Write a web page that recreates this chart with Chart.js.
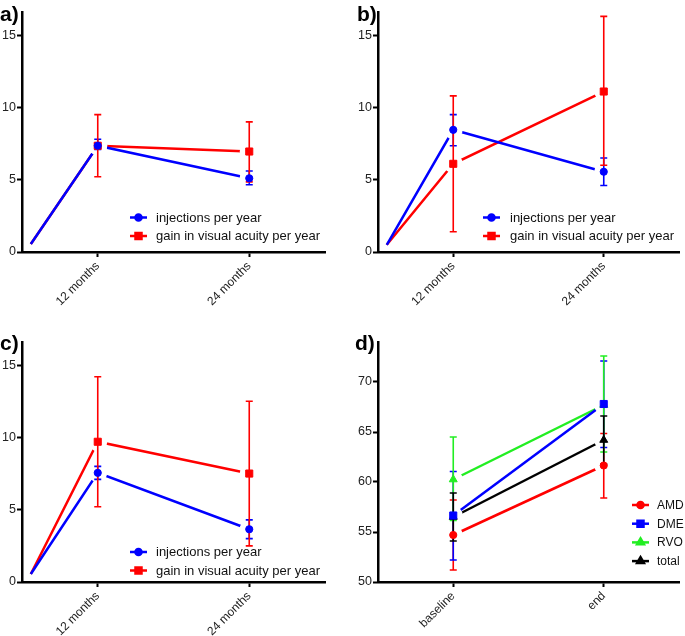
<!DOCTYPE html>
<html>
<head>
<meta charset="utf-8">
<script src="https://cdn.jsdelivr.net/npm/chart.js@4.4.0/dist/chart.umd.min.js"></script>
<style>
  body { margin: 0; background: #fff; }
  #wrap { position: relative; width: 685px; height: 636px; }
  canvas { position: absolute; }
</style>
</head>
<body>
<div id="wrap">
  <canvas id="chartA" width="340" height="318" style="left:0;top:0"></canvas>
  <canvas id="chartB" width="345" height="318" style="left:340px;top:0"></canvas>
  <canvas id="chartC" width="340" height="318" style="left:0;top:318px"></canvas>
  <canvas id="chartD" width="345" height="318" style="left:340px;top:318px"></canvas>
</div>
<script>
// ---- data ----
const startX = 6.7;               // lines in a-c start here (no marker)
const monthValues = [startX, 12, 24];
const monthTicks = [12, 24];
const monthLabels = ['12 months', '24 months'];
const seriesNames = ['injections per year', 'gain in visual acuity per year'];
const yTicksAC = [0, 5, 10, 15];

// a)
const injA = [0.55, 7.35, 5.1];
const injALow = [null, 7.1, 4.65];
const injAHigh = [null, 7.8, 5.6];
const gainA = [0.55, 7.35, 6.95];
const gainALow = [null, 5.2, 4.85];
const gainAHigh = [null, 9.5, 9.0];

// b)
const injB = [0.5, 8.45, 5.55];
const injBLow = [null, 7.35, 4.6];
const injBHigh = [null, 9.5, 6.5];
const gainB = [0.5, 6.1, 11.1];
const gainBLow = [null, 1.4, 6.0];
const gainBHigh = [null, 10.8, 16.3];

// c)
const injC = [0.55, 7.55, 3.65];
const injCLow = [null, 7.1, 3.0];
const injCHigh = [null, 8.0, 4.3];
const gainC = [0.55, 9.7, 7.5];
const gainCLow = [null, 5.2, 2.5];
const gainCHigh = [null, 14.2, 12.5];

// d)
const timeLabels = ['baseline', 'end'];
const groupNames = ['AMD', 'DME', 'RVO', 'total'];
const yTicksD = [50, 55, 60, 65, 70];
const amd = [54.7, 61.65];
const amdLow = [51.2, 58.4];
const amdHigh = [58.2, 64.85];
const dme = [56.65, 67.8];
const dmeLow = [52.2, 63.45];
const dmeHigh = [61.05, 72.1];
const rvo = [60.25, 67.7];
const rvoLow = [56.15, 63.0];
const rvoHigh = [64.5, 72.6];
const total = [56.5, 64.2];
const totalLow = [54.1, 61.8];
const totalHigh = [58.9, 66.6];

// ---- style ----
const BLUE = '#0000ff', RED = '#ff0000', GREEN = '#22ee22', BLACK = '#000000';
const FONT = 'Arial, "Liberation Sans", sans-serif';
Chart.defaults.font.family = FONT;
Chart.defaults.color = '#222';
Chart.defaults.animation = false;

const markerSize = { circle: 3.6, rect: 5, triangle: 4.6 };

// line datasets are drawn first (higher order), markers on top
function lineSet(xs, ys, color) {
  return {
    data: ys.map((y, i) => ({ x: xs[i], y: y })),
    borderColor: color, borderWidth: 2.5, pointRadius: 0,
    order: 2, kind: 'line'
  };
}
function markerSet(xs, ys, low, high, color, style, skipFirst) {
  return {
    data: ys.map((y, i) => ({ x: xs[i], y: y })),
    showLine: false, order: 1, kind: 'marker',
    pointStyle: style,
    pointRadius: ctx => (skipFirst && ctx.dataIndex === 0) ? 0 : markerSize[style],
    backgroundColor: color, borderColor: color, borderWidth: 1,
    errLow: low, errHigh: high, errColor: color, skipFirst: skipFirst
  };
}

// halo (Prism-style gap round markers) + error bars, drawn after lines and before markers
const errorBarPlugin = {
  id: 'errorBars',
  beforeDraw(chart) { chart.$errDone = false; },
  beforeDatasetDraw(chart, args) {
    const ds = chart.data.datasets[args.index];
    if (ds.kind !== 'marker' || chart.$errDone) return;
    chart.$errDone = true;
    const ctx = chart.ctx;
    const yScale = chart.scales.y;
    const markers = chart.data.datasets
      .map((d, i) => ({ d, meta: chart.getDatasetMeta(i) }))
      .filter(m => m.d.kind === 'marker');
    ctx.save();
    ctx.fillStyle = '#ffffff';
    markers.forEach(({ d, meta }) => {
      meta.data.forEach((pt, i) => {
        if (d.skipFirst && i === 0) return;
        ctx.beginPath();
        ctx.arc(pt.x, pt.y, 9.5, 0, Math.PI * 2);
        ctx.fill();
      });
    });
    ctx.lineWidth = 1.6;
    markers.forEach(({ d, meta }) => {
      ctx.strokeStyle = d.errColor;
      meta.data.forEach((pt, i) => {
        if (d.errLow[i] == null) return;
        const yl = yScale.getPixelForValue(d.errLow[i]);
        const yh = yScale.getPixelForValue(d.errHigh[i]);
        ctx.beginPath();
        ctx.moveTo(pt.x, yl); ctx.lineTo(pt.x, yh);
        ctx.moveTo(pt.x - 3.5, yl); ctx.lineTo(pt.x + 3.5, yl);
        ctx.moveTo(pt.x - 3.5, yh); ctx.lineTo(pt.x + 3.5, yh);
        ctx.stroke();
      });
    });
    ctx.restore();
  }
};

// panel letter and the Prism-like legend box
const decorPlugin = {
  id: 'decor',
  afterDraw(chart, args, opts) {
    const ctx = chart.ctx;
    ctx.save();
    ctx.fillStyle = '#000';
    ctx.font = 'bold 21px ' + FONT;
    ctx.textBaseline = 'alphabetic';
    ctx.fillText(opts.letter, opts.letterX, opts.letterY);
    ctx.font = opts.legendFont + 'px ' + FONT;
    ctx.textBaseline = 'middle';
    opts.items.forEach((it, k) => {
      const y = opts.legendY + k * opts.legendGap;
      const x0 = opts.legendX;
      ctx.strokeStyle = it.color;
      ctx.lineWidth = 2.5;
      ctx.beginPath();
      ctx.moveTo(x0, y); ctx.lineTo(x0 + 17, y);
      ctx.stroke();
      Chart.helpers.drawPoint(ctx, {
        pointStyle: it.style, radius: markerSize[it.style] * 0.85, borderWidth: 1
      }, x0 + 8.5, y);
      ctx.fillStyle = it.color;
      ctx.fill();
      ctx.fillStyle = '#111';
      ctx.fillText(it.label, x0 + opts.textDx, y + 0.5);
    });
    ctx.restore();
  }
};

function axisStyle() {
  return {
    border: { display: true, color: '#000', width: 2.5 },
    grid: { display: true, drawOnChartArea: false, drawTicks: true,
            tickLength: 5, tickWidth: 2, tickColor: '#000' }
  };
}

function makeChart(id, datasets, xScale, yMin, yMax, yTicks, fit, decor) {
  const ySt = axisStyle();
  const xSt = axisStyle();
  return new Chart(document.getElementById(id), {
    type: 'line',
    data: { labels: xScale.labels, datasets: datasets },
    plugins: [errorBarPlugin, decorPlugin],
    options: {
      responsive: false,
      layout: { padding: { left: 0, right: fit.right, top: fit.top, bottom: 0 } },
      plugins: { legend: { display: false }, tooltip: { enabled: false }, decor: decor },
      scales: {
        x: Object.assign({}, xSt, xScale.opts, {
          afterFit: s => { s.height = fit.bottom; },
          ticks: Object.assign({ minRotation: 45, maxRotation: 45, padding: 2,
                                 font: { size: 12 }, color: '#222' }, xScale.ticks)
        }),
        y: Object.assign({}, ySt, {
          min: yMin, max: yMax,
          afterFit: s => { s.width = fit.left; },
          afterBuildTicks: s => { s.ticks = yTicks.map(v => ({ value: v })); },
          ticks: { padding: 1, font: { size: 12.5 }, color: '#222' }
        })
      }
    }
  });
}

const monthAxis = {
  labels: undefined,
  opts: {
    type: 'linear', min: 6, max: 30,
    afterBuildTicks: s => { s.ticks = monthTicks.map(v => ({ value: v })); }
  },
  ticks: { callback: v => monthLabels[monthTicks.indexOf(v)] }
};
const timeAxis = {
  labels: timeLabels,
  opts: { type: 'category', offset: true },
  ticks: {}
};

function acSets(inj, injLow, injHigh, gain, gainLow, gainHigh) {
  return [
    markerSet(monthValues, inj, injLow, injHigh, BLUE, 'circle', true),
    markerSet(monthValues, gain, gainLow, gainHigh, RED, 'rect', true),
    lineSet(monthValues, inj, BLUE),
    lineSet(monthValues, gain, RED)
  ];
}
const acItems = [
  { label: seriesNames[0], color: BLUE, style: 'circle' },
  { label: seriesNames[1], color: RED, style: 'rect' }
];

makeChart('chartA', acSets(injA, injALow, injAHigh, gainA, gainALow, gainAHigh),
  monthAxis, 0, 16.6, yTicksAC, { left: 22, right: 15, top: 12, bottom: 66 },
  { letter: 'a)', letterX: 0, letterY: 21, items: acItems,
    legendX: 130, legendY: 217.5, legendGap: 18.5, textDx: 26, legendFont: 13 });

makeChart('chartB', acSets(injB, injBLow, injBHigh, gainB, gainBLow, gainBHigh),
  monthAxis, 0, 16.6, yTicksAC, { left: 38, right: 5, top: 12, bottom: 66 },
  { letter: 'b)', letterX: 17, letterY: 21, items: acItems,
    legendX: 143, legendY: 217.5, legendGap: 18.5, textDx: 27, legendFont: 13 });

makeChart('chartC', acSets(injC, injCLow, injCHigh, gainC, gainCLow, gainCHigh),
  monthAxis, 0, 16.6, yTicksAC, { left: 22, right: 15, top: 24, bottom: 54 },
  { letter: 'c)', letterX: 0, letterY: 32, items: acItems,
    legendX: 130, legendY: 234, legendGap: 18.5, textDx: 26, legendFont: 13 });

const dIdx = [0, 1];
makeChart('chartD', [
    markerSet(dIdx, amd, amdLow, amdHigh, RED, 'circle', false),
    markerSet(dIdx, dme, dmeLow, dmeHigh, BLUE, 'rect', false),
    markerSet(dIdx, rvo, rvoLow, rvoHigh, GREEN, 'triangle', false),
    markerSet(dIdx, total, totalLow, totalHigh, BLACK, 'triangle', false),
    lineSet(dIdx, amd, RED),
    lineSet(dIdx, dme, BLUE),
    lineSet(dIdx, rvo, GREEN),
    lineSet(dIdx, total, BLACK)
  ],
  timeAxis, 50, 74, yTicksD, { left: 38, right: 5, top: 24, bottom: 54 },
  { letter: 'd)', letterX: 15, letterY: 32,
    items: [
      { label: groupNames[0], color: RED, style: 'circle' },
      { label: groupNames[1], color: BLUE, style: 'rect' },
      { label: groupNames[2], color: GREEN, style: 'triangle' },
      { label: groupNames[3], color: BLACK, style: 'triangle' }
    ],
    legendX: 292, legendY: 187, legendGap: 18.7, textDx: 25, legendFont: 12 });
</script>
</body>
</html>
